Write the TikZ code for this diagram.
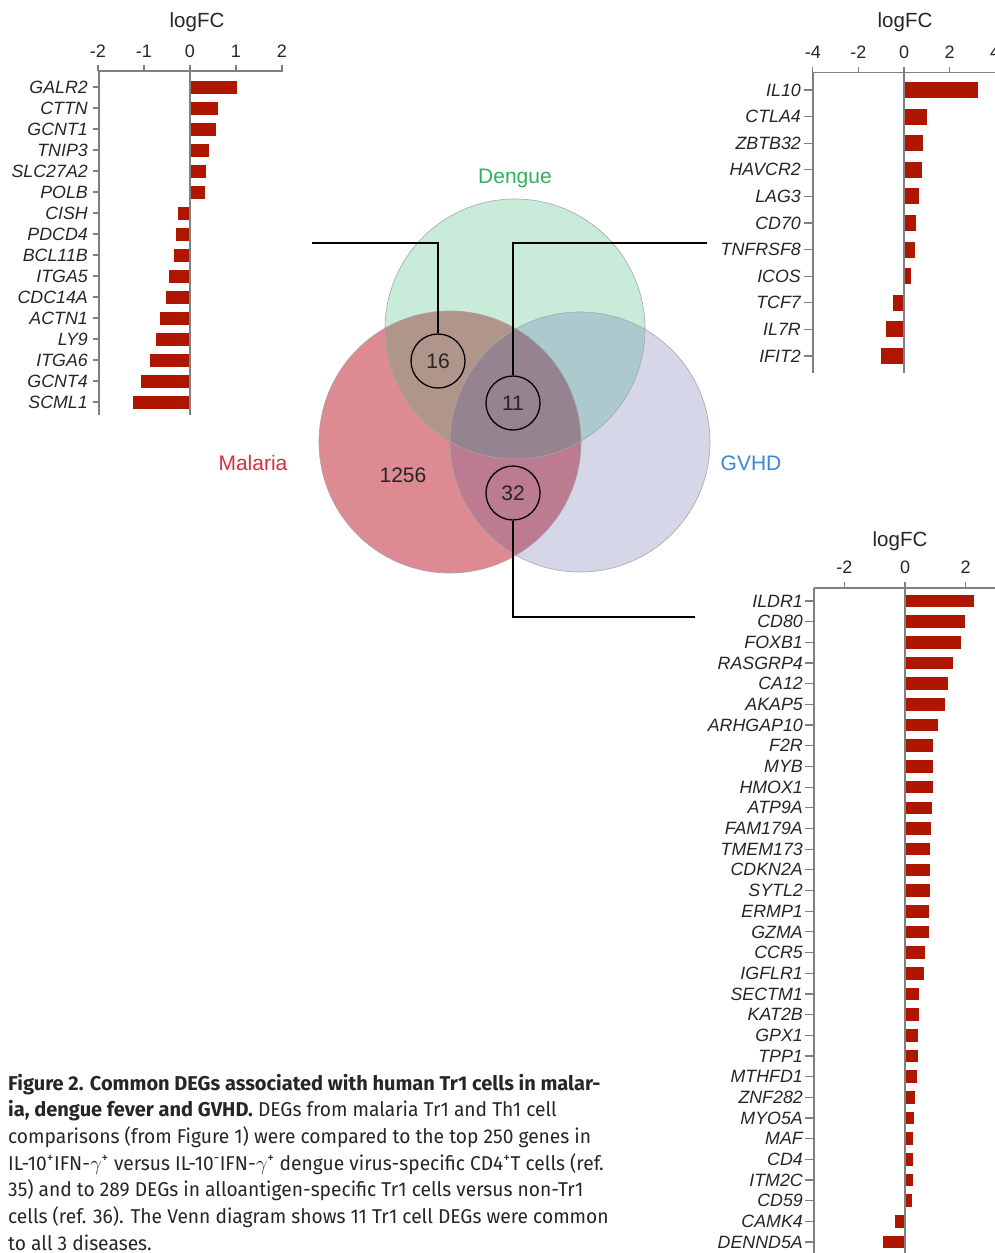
\documentclass[tikz,border=0pt]{standalone}
\usepackage{fontspec}
\setmainfont{Liberation Sans}
\newfontfamily\capfont[FakeStretch=0.96]{Fira Sans}
\newfontfamily\capboldfont{Fira Sans}
\definecolor{barred}{HTML}{AE1600}
\definecolor{axisgray}{HTML}{808080}
\definecolor{dcol}{HTML}{C9EBD9}
\definecolor{mcol}{HTML}{DE8A92}
\definecolor{gcol}{HTML}{D5D6E7}
\definecolor{dmcol}{HTML}{B0968A}
\definecolor{dgcol}{HTML}{ACC9CD}
\definecolor{mgcol}{HTML}{BC7B91}
\definecolor{dmgcol}{HTML}{958390}
\definecolor{dtext}{HTML}{2DB25F}
\definecolor{mtext}{HTML}{D1313F}
\definecolor{gtext}{HTML}{3B87D0}
\newcommand{\capbf}[1]{{\capboldfont\bfseries #1}}
\tikzset{
 axisline/.style={draw=axisgray, line width=1.2pt},
 barfill/.style={fill=barred},
 gene/.style={anchor=east, inner sep=0pt, font=\fontsize{17.8}{20}\selectfont\itshape, text=black!85},
 ticklab/.style={inner sep=0pt, font=\fontsize{18}{20}\selectfont, text=black!85},
 axtitle/.style={inner sep=0pt, font=\fontsize{20.5}{22}\selectfont, text=black!85},
 venn/.style={draw=black!35, line width=0.6pt},
 count/.style={circle, draw=black, line width=1.3pt, minimum size=54pt, inner sep=0pt, font=\fontsize{21}{22}\selectfont, text=black!85},
 setlab/.style={inner sep=0pt, font=\fontsize{21}{22}\selectfont},
 callout/.style={draw=black, line width=1.3pt},
 capline/.style={anchor=base west, inner sep=0pt, font=\capfont\fontsize{20}{26}\selectfont, text=black!85},
}
\begin{document}
\begin{tikzpicture}[x=1pt,y=-1pt]
\useasboundingbox (0,0) rectangle (995,1253);
\fill[white] (0,0) rectangle (995,1253);

% ---------- Chart 1 (top left) ----------
\node[axtitle] (t1) at (197,22) {logFC};
\draw[axisline] (99,71) -- (283,71);
\foreach \t in {-2,-1,0,1,2} {
  \draw[axisline] (190+46*\t,71) -- (190+46*\t,65);
  \node[ticklab] (t1l\t) at (190+46*\t,51) {\t};
}
\foreach \g/\v [count=\i from 0] in {GALR2/1.02,CTTN/0.61,GCNT1/0.56,TNIP3/0.42,SLC27A2/0.35,POLB/0.33,CISH/-0.26,PDCD4/-0.31,BCL11B/-0.34,ITGA5/-0.45,CDC14A/-0.53,ACTN1/-0.65,LY9/-0.75,ITGA6/-0.86,GCNT4/-1.06,SCML1/-1.24} {
  \pgfmathsetmacro\yy{87+21*\i}
  \fill[barfill] (190,\yy-6.5) rectangle (190+46*\v,\yy+6.5);
  \draw[axisline] (93,\yy) -- (99,\yy);
  \node[gene] (a\i) at (88,\yy) {\g};
}
\draw[axisline] (99,71) -- (99,415);
\draw[axisline] (190,71) -- (190,415);

% ---------- Chart 2 (top right) ----------
\node[axtitle] (t2) at (905,22) {logFC};
\draw[axisline] (813,72.5) -- (1000,72.5);
\foreach \t in {-4,-2,0,2,4} {
  \draw[axisline] (904+22.8*\t,72.5) -- (904+22.8*\t,66.5);
  \node[ticklab] (t2l\t) at (904+22.8*\t,52) {\t};
}
\foreach \g/\v [count=\i from 0] in {IL10/3.25,CTLA4/1.0,ZBTB32/0.83,HAVCR2/0.8,LAG3/0.67,CD70/0.52,TNFRSF8/0.5,ICOS/0.32,TCF7/-0.5,IL7R/-0.77,IFIT2/-1.03} {
  \pgfmathsetmacro\yy{90+26.6*\i}
  \fill[barfill] (904,\yy-8) rectangle (904+22.8*\v,\yy+8);
  \draw[axisline] (804,\yy) -- (813,\yy);
  \node[gene] (b\i) at (801,\yy) {\g};
}
\draw[axisline] (813,72.5) -- (813,373);
\draw[axisline] (904,72.5) -- (904,373);

% ---------- Chart 3 (bottom right) ----------
\node[axtitle] (t3) at (900,541) {logFC};
\draw[axisline] (814,588) -- (1000,588);
\foreach \t in {-2,0,2} {
  \draw[axisline] (905+30.3*\t,588) -- (905+30.3*\t,582);
  \node[ticklab] (t3l\t) at (905+30.3*\t,567) {\t};
}
\foreach \g/\v [count=\i from 0] in {ILDR1/2.28,CD80/1.98,FOXB1/1.85,RASGRP4/1.58,CA12/1.41,AKAP5/1.32,ARHGAP10/1.08,F2R/0.93,MYB/0.91,HMOX1/0.91,ATP9A/0.9,FAM179A/0.85,TMEM173/0.84,CDKN2A/0.83,SYTL2/0.82,ERMP1/0.80,GZMA/0.78,CCR5/0.65,IGFLR1/0.63,SECTM1/0.45,KAT2B/0.45,GPX1/0.43,TPP1/0.43,MTHFD1/0.40,ZNF282/0.32,MYO5A/0.29,MAF/0.28,CD4/0.28,ITM2C/0.28,CD59/0.24,CAMK4/-0.33,DENND5A/-0.72} {
  \pgfmathsetmacro\yy{601+20.68*\i}
  \fill[barfill] (905,\yy-6.3) rectangle (905+30.3*\v,\yy+6.3);
  \draw[axisline] (805,\yy) -- (814,\yy);
  \node[gene] (c\i) at (803,\yy) {\g};
}
\draw[axisline] (814,588) -- (814,1256);
\draw[axisline] (905,588) -- (905,1256);

% ---------- Venn diagram ----------
\fill[dcol] (515,329) circle[radius=130];
\fill[mcol] (450,442) circle[radius=131];
\fill[gcol] (580,442) circle[radius=130];
\begin{scope}
  \clip (515,329) circle[radius=130];
  \fill[dmcol] (450,442) circle[radius=131];
  \fill[dgcol] (580,442) circle[radius=130];
\end{scope}
\begin{scope}
  \clip (450,442) circle[radius=131];
  \fill[mgcol] (580,442) circle[radius=130];
\end{scope}
\begin{scope}
  \clip (515,329) circle[radius=130];
  \clip (450,442) circle[radius=131];
  \fill[dmgcol] (580,442) circle[radius=130];
\end{scope}
\draw[venn] (515,329) circle[radius=130];
\draw[venn] (450,442) circle[radius=131];
\draw[venn] (580,442) circle[radius=130];

\node[setlab, text=dtext] (dengue) at (515,178) {Dengue};
\node[setlab, text=mtext] (malaria) at (253,463) {Malaria};
\node[setlab, text=gtext] (gvhd) at (751,463) {GVHD};
\node[setlab, text=black!85] (n1256) at (403,475) {1256};

\node[count] (c16) at (438,361) {16};
\node[count] (c11) at (513,403) {11};
\node[count] (c32) at (513,493) {32};

\coordinate (e16) at (312,243);
\coordinate (e11) at (707,243);
\coordinate (e32) at (695,617);
\draw[callout] (c16.north) |- (e16);
\draw[callout] (c11.north) |- (e11);
\draw[callout] (c32.south) |- (e32);

% ---------- Caption ----------
\node[capline] (cap1) at (8,1090) {\capbf{Figure 2. Common DEGs associated with human Tr1 cells in malar-}};
\node[capline] (cap2) at (8,1116.7) {\capbf{ia, dengue fever and GVHD.} DEGs from malaria Tr1 and Th1 cell};
\node[capline] (cap3) at (8,1143.4) {comparisons (from Figure 1) were compared to the top 250 genes in};
\node[capline] (cap4) at (8,1170.1) {IL-10\textsuperscript{+}IFN-$\gamma$\textsuperscript{+} versus IL-10\textsuperscript{-}IFN-$\gamma$\textsuperscript{+} dengue virus-specific CD4\textsuperscript{+}T cells (ref.};
\node[capline] (cap5) at (8,1196.8) {35) and to 289 DEGs in alloantigen-specific Tr1 cells versus non-Tr1};
\node[capline] (cap6) at (8,1223.5) {cells (ref. 36). The Venn diagram shows 11 Tr1 cell DEGs were common};
\node[capline] (cap7) at (8,1250.2) {to all 3 diseases.};
\end{tikzpicture}
\end{document}
